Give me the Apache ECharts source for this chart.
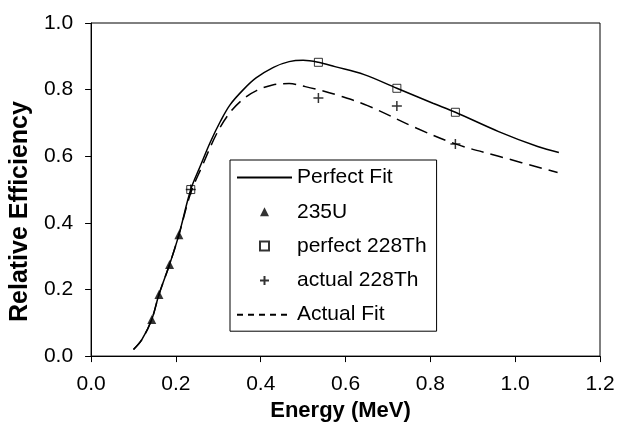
<!DOCTYPE html>
<html>
<head>
<meta charset="utf-8">
<script src="https://cdn.jsdelivr.net/npm/echarts@6/dist/echarts.min.js"></script>
<style>
html,body{margin:0;padding:0;background:#fff;}
#main{width:618px;height:427px;}
</style>
</head>
<body>
<div id="main"></div>
<script>
// fitted curves (energy MeV, relative efficiency)
var perfectX = [0.100,0.120,0.143,0.160,0.185,0.207,0.235,0.258,0.281,0.305,0.328,0.359,0.389,0.430,0.467,0.500,0.536,0.575,0.644,0.721,0.806,0.859,0.961,1.053,1.103];
var perfectY = [0.020,0.050,0.110,0.185,0.275,0.364,0.500,0.572,0.642,0.705,0.755,0.800,0.835,0.867,0.884,0.888,0.882,0.869,0.845,0.804,0.759,0.732,0.674,0.629,0.611];
var actualX = [0.100,0.120,0.143,0.160,0.185,0.207,0.235,0.260,0.297,0.328,0.359,0.390,0.428,0.467,0.505,0.544,0.582,0.652,0.768,0.859,0.961,1.100];
var actualY = [0.020,0.050,0.110,0.185,0.275,0.364,0.490,0.565,0.670,0.732,0.772,0.797,0.814,0.818,0.809,0.797,0.783,0.752,0.684,0.637,0.600,0.551];
// measured points
var u235X = [0.143,0.160,0.185,0.207];
var u235Y = [0.110,0.185,0.275,0.364];
var thX = [0.235,0.536,0.721,0.859];
var thPerfectY = [0.500,0.882,0.804,0.732];
var thActualY = [0.500,0.775,0.751,0.637];

function pairs(xs, ys){
  var out = [];
  for (var i = 0; i < xs.length; i++) out.push([xs[i], ys[i]]);
  return out;
}

var font = 'Liberation Sans, Arial, sans-serif';
var plus = 'path://M0,5L10,5M5,0L5,10';
var tri = 'path://M4,0L8,8L0,8Z';
var box = 'path://M0,0L8,0L8,8L0,8Z';

var myChart = echarts.init(document.getElementById('main'));
var option = {
  animation: false,
  backgroundColor: '#fff',
  grid: {
    left: 82, right: 18, top: 23, bottom: 70,
    show: true, borderColor: '#000', borderWidth: 1
  },
  legend: {
    orient: 'vertical',
    left: 230, top: 160,
    padding: [7, 10, 6, 6],
    borderColor: '#000', borderWidth: 1,
    backgroundColor: '#fff',
    itemWidth: 55, itemHeight: 9, itemGap: 13.3,
    textStyle: { fontFamily: font, fontSize: 21, color: '#000' },
    data: [
      { name: 'Perfect Fit', itemStyle: { opacity: 0 } },
      { name: '235U', icon: tri },
      { name: 'perfect 228Th', icon: box },
      { name: 'actual 228Th', icon: plus },
      { name: 'Actual Fit', itemStyle: { opacity: 0 }, lineStyle: { type: [6, 5] } }
    ]
  },
  xAxis: {
    type: 'value', min: 0, max: 1.2, interval: 0.2,
    name: 'Energy (MeV)', nameLocation: 'middle', nameGap: 42,
    nameTextStyle: { fontFamily: font, fontSize: 22, fontWeight: 'bold', color: '#000', padding: [0, 10, 0, 0] },
    axisLine: { lineStyle: { color: '#000', width: 1 } },
    axisTick: { length: 6, lineStyle: { color: '#000' } },
    splitLine: { show: false },
    axisLabel: {
      margin: 18, fontFamily: font, fontSize: 21, color: '#000',
      formatter: function(v){ return v.toFixed(1); }
    }
  },
  yAxis: {
    type: 'value', min: 0, max: 1.0, interval: 0.2,
    name: 'Relative Efficiency', nameLocation: 'middle', nameGap: 43,
    nameTextStyle: { fontFamily: font, fontSize: 25, fontWeight: 'bold', color: '#000', padding: [0, 44, 0, 0] },
    axisLine: { show: true, lineStyle: { color: '#000', width: 1 } },
    axisTick: { show: true, length: 6, lineStyle: { color: '#000' } },
    splitLine: { show: false },
    axisLabel: {
      margin: 18, fontFamily: font, fontSize: 21, color: '#000',
      formatter: function(v){ return v.toFixed(1); }
    }
  },
  series: [
    {
      name: 'Perfect Fit', type: 'line', data: pairs(perfectX, perfectY),
      symbol: 'none', smooth: 0.35,
      lineStyle: { color: '#000', width: 1.5 }, itemStyle: { color: '#000' }
    },
    {
      name: '235U', type: 'scatter', data: pairs(u235X, u235Y),
      symbol: tri, symbolSize: 9,
      itemStyle: { color: '#000' }
    },
    {
      name: 'perfect 228Th', type: 'scatter', data: pairs(thX, thPerfectY),
      symbol: box, symbolSize: 8,
      itemStyle: { color: 'rgba(255,255,255,0)', borderColor: '#000', borderWidth: 1 }
    },
    {
      name: 'actual 228Th', type: 'scatter', data: pairs(thX, thActualY),
      symbol: plus, symbolSize: 10,
      itemStyle: { color: 'rgba(255,255,255,0)', borderColor: '#000', borderWidth: 1.5 }
    },
    {
      name: 'Actual Fit', type: 'line', data: pairs(actualX, actualY),
      symbol: 'none', smooth: 0.35,
      lineStyle: { color: '#000', width: 1.5, type: [13, 7] }, itemStyle: { color: '#000' }
    }
  ]
};
myChart.setOption(option);
</script>
</body>
</html>
